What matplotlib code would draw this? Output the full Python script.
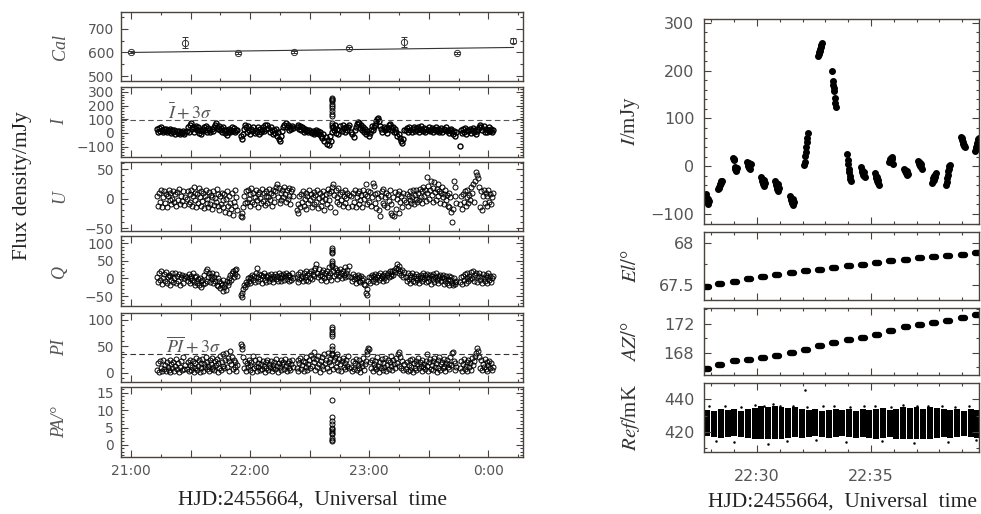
import matplotlib.pyplot as plt
import numpy as np
from matplotlib.ticker import FuncFormatter, MultipleLocator

plt.rcParams["mathtext.fontset"] = "stix"
plt.rcParams["font.family"] = "DejaVu Sans"

# ---------------- left column: hours after 21:00 UT ----------------
seg_start = [0.22, 0.47, 0.92, 1.39, 1.85, 2.31, 2.76]
seg_end = [0.45, 0.89, 1.36, 1.83, 2.29, 2.73, 3.04]

cal_t = [0.0, 0.45, 0.90, 1.37, 1.83, 2.29, 2.74, 3.21]
cal_v = [601, 641, 598, 601, 619, 645, 598, 650]
cal_err = [4, 22, 3, 3, 6, 22, 3, 10]
cal_fit_t = [0.0, 3.21]
cal_fit_v = [600, 621]

i_segs = [
    [30, 10, 35, 18, 40, 22, 8, 28, 15, 32, 5, 25, 12, 30, 0, 20, 8, 25, -5, 15, 2, 18, -8, 10, 0, 12, -5, 8],
    [15, 40, 5, 55, 70, 30, 45, 10, 35, 50, 20, 40, 0, 25, -10, 15, 30, 45, 20, 50, 10, 35, 25, 5, 30,
     15, 40, 55, 75, 45, 30, 50, 20, 35, 10, 40, 25, 0, 20, -15, 10, 30, 5, 25, 40, 15, 35, 10, 25, 20],
    [-20, -45, -10, 30, 60, 40, 10, 50, 20, -5, 30, 15, 45, 0, 25, 10, 40, -10, 30, 5, 20, 45, 15, 55, 30,
     60, 35, 10, 40, 20, -5, 25, 0, 30, -20, 10, -45, -60, -20, 15, 45, 60, 70, 40, 55, 20, 45, 30, 50, 35],
    [45, 60, 30, 50, 20, 40, 35, 10, 30, 15, 25, 5, 20, 10, 0, 15, -5, 10, 20, 0, 15, -10, 5, -20, -40,
     -10, -60, -30, -80, -50, -90, -20, -60, 10, 40, 20, 55, 0, 30, -10, 25, 50, 15, 60, 35, 5, 45, 20, 40, 60],
    [10, -10, -30, 20, 40, 65, 80, 70, 35, 55, 20, 45, 10, 30, -5, 15, -20, 0, 25, 50, 20, 40, 60, 85, 100,
     110, 90, 50, 30, 10, 45, 20, 35, 0, 30, 55, 65, 40, 20, 45, 10, 30, 5, -20, -10, -40, -60, -70, -45, 20],
    [20, 35, 10, 40, 25, 5, 30, 45, 15, 35, 20, 40, 10, 30, 50, 25, 15, 35, 5, 30, 20, 40, 15, 25, 35,
     10, 30, 20, 45, 15, 30, 5, 25, 35, 10, 30, 20, 40, 15, 25, 0, 20, 30, 10, -10, 15, -25, 5],
    [-95, 20, 0, 30, 10, 35, -5, 25, 15, 30, 0, 20, 35, 10, 25, -10, 15, 30, 45, 60, 40, 20, 50, 10, 30,
     5, 25, 40, 15, 30, 10, 20],
]
u_segs = [
    [5, -12, 10, -5, 14, -15, 2, 12, -8, 8, -14, 4, 15, -3, 9, -10, 0, 13, -6, 7, -12, 11, -2, 16, -9, 5, -4, 12, -11, 3],
    [0, 12, -10, 8, -5, 15, -12, 5, 20, -3, 10, -15, 7, -8, 18, 2, -12, 12, -4, 9, -16, 4, 14, -7, 0, -14, 11, -9, 6, -18,
     3, 13, -11, 1, -6, 16, -13, 8, -20, 5, -9, 10, -15, -2, 7, -22, 0, 12, -12, -25, 4, -8, -18, 9, -28, -5, 14, -12, 2, -20],
    [-30, -25, -32, -15, 5, -8, 12, -5, 15, 0, -12, 8, 18, -6, 10, -10, 3, 14, -3, 7, -14, 11, 1, -8, 16, -4, 9, -11, 5, 13,
     -7, 2, 17, -2, 10, -12, 6, 15, -5, 12, 20, 25, 3, 18, -8, 10, -3, 15, 2, 20, 8, -6, 14, 0, 18, 5, -10, 12, 16, 4],
    [-20, -25, -10, 5, -15, 8, -5, 12, -12, 0, 10, -18, 4, -8, 14, -3, 7, -14, 2, 11, -10, 6, -6, 15, -16, 1, 9, -12, 5, -4,
     13, -20, 0, 8, -9, 16, -2, 10, -15, 12, 20, 25, 6, -22, 14, -6, 3, 18, -10, 8, -3, 11, -12, 4, 15, -8, 1, 10, -14, 6],
    [5, -12, 10, -6, 14, -15, 2, 9, -9, 12, -3, 6, -14, 15, 0, 8, 24, -10, 4, 13, -5, 11, -12, 3, 26, 22, -8, 7, -16, 10,
     1, -20, -29, 5, 12, -7, 16, -11, 2, 9, -14, 6, -4, 14, -25, -9, -28, 3, -30, 11, -18, 0, 8, -24, 13, -6, 4, -15, 10, -2],
    [-5, 8, -12, 5, -2, 12, -8, 3, 15, -10, 6, 0, 14, -6, 10, -3, 17, 2, -8, 12, 20, 5, 15, -4, 37, 9, 22, 0, 14, 30,
     6, 18, -5, 28, 11, -2, 16, 25, 4, 13, -7, 10, 19, 2, -10, 8, 15, -3, 6, -12, 10, -15, 2, -22, -40, -18, 30, 20, 5, -8],
    [-10, 5, -18, 8, -5, 12, -12, 2, 15, -8, 6, -3, 20, 10, 25, -6, 30, 45, 40, 35, 20, -15, 12, -20, 5, 15, -8, 10, -12, 4,
     14, -5, 8, -10, 2, 10],
]
q_segs = [
    [5, -10, 15, -5, 20, -15, 0, 12, -8, 18, -12, 3, 10, -18, 8, -4, 14, -10, 2, 16, -14, 6, -6, 12, -20, 4, 10, -12, 0, 8],
    [5, -8, 12, 0, -12, 8, -5, 15, -10, 3, -18, 6, -14, -2, -20, 2, -8, -25, -4, -16, 10, -12, 20, -6, 26, 4, 14, -10, 8, -2,
     16, -14, 5, -8, 12, -18, 0, -22, -8, -28, -12, -20, -35, -5, -25, -15, -32, -8, -20, 0, -10, 10, -5, 15, 22, 5, 25, 12, 28, 8],
    [-48, -52, -40, -30, -20, -25, -10, -15, 0, -8, 5, -12, 2, 10, -5, 8, -10, 15, 30, 4, -6, 12, -2, 9, -12, 6, 14, -4, 8, -9,
     3, 11, -6, 1, 13, -3, 7, -10, 5, 12, -2, 8, -8, 15, 0, 10, -6, 4, 12, -4, 6, 16, -2, 9, -7, 11, 3, -5, 14, 2],
    [5, -10, 12, -2, 18, 0, 8, -8, 15, 4, -5, 20, 10, -6, 14, 2, 22, -3, 12, 25, 6, 30, 40, 15, 5, 28, 10, -4, 18, 8,
     24, 2, 14, -8, 20, 10, 32, 5, 15, -5, 35, 22, 8, 30, 12, -2, 25, 18, 6, 28, 14, 0, 20, 10, 32, 4, 16, 24, 8, 35],
    [5, -8, 12, -2, 8, -12, 0, 10, -6, 4, -10, 8, -4, 2, -15, -20, -40, -48, -30, -8, 5, -12, 3, 10, -6, 8, -2, 12, -10, 4,
     9, -5, 14, 0, 7, -8, 11, 2, 16, -4, 9, 15, 5, 20, 8, 12, 22, 10, 25, 18, 30, 40, 28, 15, 35, 20, 10, 25, 5, 18],
    [5, -8, 14, -2, 10, -12, 3, 16, -6, 8, -10, 2, 12, -4, 7, -14, 0, 11, -8, 5, 15, -3, 9, -11, 4, 13, -6, 1, 10, -15,
     6, -2, 12, -9, 3, 14, -5, 8, -12, 0, 9, -7, 4, 11, -16, 2, -8, 7, -14, -3, 6, -18, -5, 4, -12, -20, 0, -10, -15, -6],
    [-10, 5, -15, 8, -5, 12, -12, 2, 15, -8, 6, -3, 18, 0, 20, -6, 10, 14, -10, 8, 16, -4, 5, -12, 12, 0, -8, 10, -14, 4,
     14, -5, 8, -10, 2, 6],
]
pi_segs = [
    [5, 18, 2, 22, 10, 4, 25, 8, 15, 3, 20, 12, 6, 24, 1, 16, 9, 21, 4, 13, 26, 7, 18, 2, 11, 23, 5, 30, 8, 15],
    [8, 20, 3, 15, 25, 5, 12, 22, 2, 18, 10, 28, 6, 14, 24, 1, 19, 9, 26, 4, 16, 11, 30, 7, 21, 13, 3, 25, 17, 8,
     29, 12, 5, 22, 15, 27, 2, 18, 10, 32, 6, 20, 14, 35, 9, 24, 38, 11, 28, 4, 22, 42, 16, 30, 7, 25, 12, 20, 3, 15],
    [55, 50, 45, 30, 10, 22, 4, 18, 12, 25, 6, 15, 20, 2, 32, 9, 24, 14, 3, 19, 11, 26, 5, 16, 8, 22, 13, 1, 20, 10,
     25, 6, 17, 12, 23, 3, 15, 9, 21, 7, 26, 14, 2, 18, 11, 24, 5, 16, 20, 8, 27, 13, 4, 19, 10, 22, 6, 17, 25, 12],
    [10, 25, 4, 18, 28, 8, 15, 22, 3, 20, 12, 30, 6, 17, 25, 9, 33, 14, 28, 40, 20, 5, 26, 11, 32, 16, 2, 23, 30, 13,
     7, 35, 18, 25, 10, 38, 21, 4, 27, 15, 33, 8, 24, 30, 12, 20, 36, 6, 26, 17, 3, 22, 29, 11, 18, 7, 25, 14, 32, 9],
    [12, 3, 22, 8, 18, 26, 5, 15, 10, 24, 2, 19, 13, 28, 6, 17, 22, 35, 42, 48, 45, 20, 9, 25, 4, 16, 11, 23, 7, 30,
     14, 2, 21, 10, 26, 5, 18, 12, 28, 3, 15, 24, 8, 20, 13, 32, 6, 25, 17, 10, 28, 19, 35, 14, 40, 30, 9, 22, 5, 16],
    [8, 20, 3, 15, 24, 6, 12, 27, 2, 18, 10, 22, 5, 16, 28, 9, 21, 13, 4, 25, 11, 17, 7, 23, 35, 14, 3, 20, 26, 8,
     15, 22, 5, 28, 12, 18, 2, 24, 10, 30, 6, 16, 21, 9, 27, 13, 4, 19, 25, 11, 17, 8, 30, 15, 38, 40, 22, 6, 18, 12],
    [10, 22, 4, 16, 26, 8, 14, 20, 3, 25, 12, 18, 6, 28, 15, 22, 32, 38, 48, 42, 30, 10, 24, 5, 17, 12, 26, 7, 20, 3,
     15, 22, 9, 18, 5, 12],
]

# the flare scan near 22:41
flare_t = 1.685
i_flare = [255, 248, 240, 230, 210, 195, 180, 160, 140, 125, 75, 60, 45]
q_flare = [85, 80, 76, 72, 50, 45, 38]
pi_flare = [86, 82, 78, 74, 70, 50, 45, 38, 35]
pa_flare = [13, 8, 7, 6, 5, 4.5, 4, 3.5, 3, 2, 1.5, 1]

i_cut = 95
pi_cut = 36

# ---------------- right column: minutes after 22:00 UT ----------------
scan_t = [27.81, 28.38, 29.04, 29.65, 30.26, 30.88, 31.54, 32.15, 32.76, 33.38,
          34.04, 34.65, 35.26, 35.88, 36.54, 37.15, 37.76, 38.38, 39.04, 39.65]
scan_i = [
    [-62, -70, -58, -75, -66, -80, -68, -72],
    [-48, -45, -44, -40, -38, -35, -32, -30],
    [18, 12, 15, -2, -5, -8, -10, -4],
    [8, 0, 5, -3, 6, 2, -5, 4],
    [-22, -30, -26, -38, -34, -42, -28, -36],
    [-32, -40, -36, -48, -44, -52, -38, -45],
    [-62, -70, -66, -78, -74, -82, -68, -76],
    [3, 8, 22, 30, 40, 50, 60, 70],
    [230, 234, 238, 242, 246, 250, 254, 258],
    [200, 178, 170, 163, 158, 142, 132, 123],
    [25, 12, 5, -5, -12, -20, -26, -32],
    [-2, -8, -12, -18, -15, -20, -12, -22],
    [-15, -20, -25, -22, -30, -35, -28, -40],
    [8, 12, 15, 10, 18, 14, 20, 5],
    [-5, -10, -8, -15, -12, -18, -10, -16],
    [10, 5, 8, 0, 6, -2, 4, -5],
    [-35, -30, -25, -20, -28, -18, -22, -15],
    [-40, -34, -25, -18, -10, -5, 0, 3],
    [62, 58, 55, 50, 47, 44, 42, 40],
    [32, 36, 40, 44, 48, 52, 56, 60],
]
scan_el = [67.48, 67.51, 67.54, 67.565, 67.59, 67.615, 67.64, 67.66, 67.68, 67.70,
           67.72, 67.74, 67.76, 67.78, 67.80, 67.815, 67.83, 67.845, 67.86, 67.875]
scan_az = [165.75, 166.3, 166.8, 167.05, 167.3, 167.6, 167.95, 168.4, 168.9, 169.3,
           169.7, 170.1, 170.5, 171.05, 171.6, 171.85, 172.1, 172.45, 172.8, 173.2]

ref_t = [27.70, 27.99, 28.29, 28.59, 28.88, 29.18, 29.47, 29.77, 30.07, 30.36, 30.66,
         30.95, 31.25, 31.55, 31.84, 32.14, 32.43, 32.73, 33.03, 33.32, 33.62, 33.91,
         34.21, 34.51, 34.80, 35.10, 35.39, 35.69, 35.99, 36.28, 36.58, 36.87, 37.17,
         37.47, 37.76, 38.06, 38.35, 38.65, 38.95, 39.24, 39.54]
ref_top = [433.5, 433, 434, 433.5, 434, 433, 434, 434.5, 435.5, 435, 435.5, 435, 434.5, 435,
           434, 433.5, 434, 433, 433.5, 434, 433.5, 434, 433, 434, 433.5, 434, 434.5, 433.5,
           434, 435, 434.5, 435, 434, 435, 434.5, 434, 433.5, 434, 433, 434, 433.5]
ref_bot = [417.5, 417, 416.5, 417, 417.5, 417, 416.5, 416, 415.5, 416, 415.5, 416, 416.5, 417,
           416.5, 417, 417.5, 417, 416.5, 417, 417.5, 417, 416.5, 417, 416.5, 416, 416.5, 417,
           416, 415.5, 416, 415.5, 415.5, 416, 416.5, 417, 416.5, 417, 417.5, 417, 416.5]
ref_out_t = [27.9, 28.6, 29.3, 29.9, 30.3, 30.7, 31.0, 31.6, 32.2, 32.9, 33.4, 34.1, 34.7,
             35.2, 35.9, 36.4, 37.0, 37.5, 38.1, 38.7, 39.3, 28.2, 29.0, 30.5, 31.3, 32.6,
             33.9, 35.5, 36.9, 38.4, 39.6, 32.1]
ref_out_v = [435.5, 436, 435.2, 436.5, 436, 437, 435.5, 436, 435.2, 435.5, 436, 435.2, 435.5,
             436, 435.2, 436.5, 436, 435.5, 436, 435.2, 435.5, 414.5, 414, 412.5, 414.5, 415,
             414, 414.5, 413.5, 414, 415, 445.5]

hour_labels = {0: "21:00", 1: "22:00", 2: "23:00", 3: "0:00"}

# ---------------- figure ----------------
W, H = 981, 514
SPINE = "#4a423d"
TICKC = "#555555"
SERIF = "Liberation Serif"

fig = plt.figure(figsize=(W / 100, H / 100), dpi=100)


def px_axes(x0, x1, y0, y1):
    return fig.add_axes([x0 / W, 1 - y1 / H, (x1 - x0) / W, (y1 - y0) / H])


def style(ax, ylim, major, minor, fsize):
    ax.set_ylim(*ylim)
    ax.yaxis.set_major_locator(MultipleLocator(major))
    ax.yaxis.set_minor_locator(MultipleLocator(minor))
    ax.yaxis.set_major_formatter(FuncFormatter(lambda v, _: f"{v:g}".replace("-", "\u2212")))
    ax.tick_params(which="both", direction="in", top=True, right=True,
                   color=SPINE, labelcolor=TICKC, width=0.8, labelsize=fsize)
    ax.tick_params(which="major", length=5)
    ax.tick_params(which="minor", length=2.5)
    for s in ax.spines.values():
        s.set_color(SPINE)
        s.set_linewidth(1.0)


def seg_times(k, vals):
    return np.linspace(seg_start[k], seg_end[k], len(vals))


left_rows = [(12, 81), (87, 157), (162, 231), (236, 306), (313, 382), (387, 457)]
left_axes = [px_axes(121, 523, a, b) for a, b in left_rows]
ax_cal, ax_i, ax_u, ax_q, ax_pi, ax_pa = left_axes

open_kw = dict(ls="none", marker="o", ms=3.6, mfc="none", mec="black", mew=0.7)

ax_cal.errorbar(cal_t, cal_v, yerr=cal_err, fmt="o", ms=4.5, mfc="none", mec="#333333",
                mew=0.7, ecolor="#333333", elinewidth=0.7, capsize=2)
ax_cal.plot(cal_fit_t, cal_fit_v, color="#333333", lw=0.8)

for ax, segs in [(ax_i, i_segs), (ax_u, u_segs), (ax_q, q_segs), (ax_pi, pi_segs)]:
    kw = dict(open_kw, mew=1.0) if ax is ax_i else open_kw
    for k, vals in enumerate(segs):
        ax.plot(seg_times(k, vals), vals, **kw)

ax_i.plot([flare_t] * len(i_flare), i_flare, **open_kw)
ax_q.plot([flare_t] * len(q_flare), q_flare, **open_kw)
ax_pi.plot([flare_t] * len(pi_flare), pi_flare, **open_kw)
ax_pa.plot([flare_t] * len(pa_flare), pa_flare, **open_kw)

ax_i.axhline(i_cut, color="#555555", lw=0.8, dashes=(5, 3))
ax_pi.axhline(pi_cut, color="#333333", lw=0.8, dashes=(5, 3))
ax_i.text(0.31, i_cut + 8, r"$\bar{I}+3\sigma$", fontsize=13, color="#555555")
ax_pi.text(0.29, pi_cut + 3, r"$\overline{PI}+3\sigma$", fontsize=13, color="#555555")

left_specs = [((480, 770), 100, 50), ((-175, 335), 100, 20), ((-55, 62), 50, 10),
              ((-78, 120), 50, 10), ((-17, 113), 50, 10), ((-3.5, 16.7), 5, 1)]
for ax, (ylim, major, minor) in zip(left_axes, left_specs):
    style(ax, ylim, major, minor, 10)
    ax.set_xlim(-0.084, 3.29)
    ax.xaxis.set_major_locator(MultipleLocator(0.5))
    ax.xaxis.set_minor_locator(MultipleLocator(0.25))
    ax.xaxis.set_major_formatter(FuncFormatter(
        lambda v, _: hour_labels.get(int(round(v)), "") if abs(v - round(v)) < 1e-6 else ""))
    ax.tick_params(axis="y", pad=5)
    ax.tick_params(axis="x", pad=5, labelbottom=(ax is ax_pa))

left_names = ["Cal", "I", "U", "Q", "PI", "PA/\u00b0"]
for (a, b), name in zip(left_rows, left_names):
    fig.text(60 / W, 1 - (a + b) / 2 / H, name, rotation=90, ha="center", va="center",
             fontsize=13, family=SERIF, style="italic", color="#555555")

fig.text(23 / W, 1 - 186 / H, "Flux density/mJy", rotation=90, ha="center", va="center",
         fontsize=15.5, family=SERIF, color="#222222")
fig.text(313 / W, 1 - 500 / H, "HJD:2455664,  Universal  time", ha="center", va="center",
         fontsize=15.5, family=SERIF, color="#222222")

# right column
right_rows = [(19, 224), (232, 300), (308, 375), (383, 452)]
right_axes = [px_axes(704, 979, a, b) for a, b in right_rows]
rx_i, rx_el, rx_az, rx_ref = right_axes

for c, vals in zip(scan_t, scan_i):
    rx_i.plot(np.linspace(c - 0.08, c + 0.08, len(vals)), vals, ls="none", marker="o",
              ms=4.0, color="black")
for c, el, az in zip(scan_t, scan_el, scan_az):
    rx_el.plot([c - 0.08, c + 0.08], [el, el], color="black", lw=4.6, solid_capstyle="round")
    rx_az.plot([c - 0.08, c + 0.08], [az, az], color="black", lw=4.6, solid_capstyle="round")

rx_ref.bar(ref_t, np.array(ref_top) - np.array(ref_bot), bottom=ref_bot, width=0.26,
           align="edge", color="black", linewidth=0)
rx_ref.plot(ref_out_t, ref_out_v, ls="none", marker="o", ms=0.8, color="black")

right_specs = [((-121, 308), 100, 20), ((67.32, 68.13), 0.5, 0.25),
               ((164.9, 174.2), 4, 2), ((407.8, 449.8), 20, 10)]
for ax, (ylim, major, minor) in zip(right_axes, right_specs):
    style(ax, ylim, major, minor, 11.5)
    ax.set_xlim(27.68, 39.74)
    ax.xaxis.set_major_locator(MultipleLocator(5))
    ax.xaxis.set_minor_locator(MultipleLocator(1))
    ax.xaxis.set_major_formatter(FuncFormatter(lambda v, _: f"22:{int(round(v)):02d}"))
    ax.tick_params(axis="y", pad=7)
    ax.tick_params(axis="x", pad=12, labelbottom=(ax is rx_ref))

right_names = [r"$I$/mJy", r"$El/$°", r"$AZ/$°", r"$Ref/$mK"]
for (a, b), name in zip(right_rows, right_names):
    fig.text(631 / W, 1 - (a + b) / 2 / H, name, rotation=90, ha="center", va="center",
             fontsize=15, family=SERIF, color="#333333")

fig.text(843 / W, 1 - 502 / H, "HJD:2455664,  Universal  time", ha="center", va="center",
         fontsize=15.5, family=SERIF, color="#222222")

fig.savefig("out.png", dpi=100)
